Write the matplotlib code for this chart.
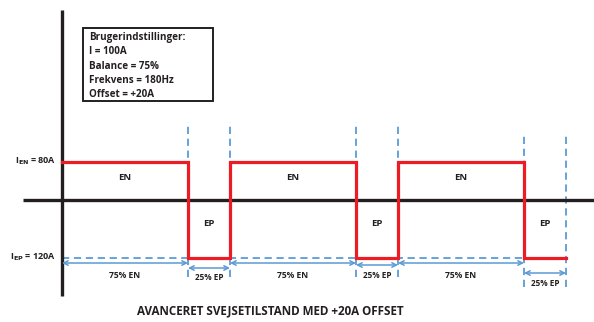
import matplotlib.pyplot as plt
from matplotlib.patches import Rectangle

# User settings shown in the info box
settings_title = "Brugerindstillinger:"
settings_lines = ["I = 100A", "Balance = 75%", "Frekvens = 180Hz", "Offset = +20A"]

# Waveform parameters
freq_hz = 180          # AC frequency
balance_en = 0.75      # EN share of each period
i_en = 80              # A, electrode negative level
i_ep = -120            # A, electrode positive level (drawn below zero)
n_periods = 3

en_label = "EN"
ep_label = "EP"
en_pct_label = "75% EN"
ep_pct_label = "25% EP"
y_labels = [r"I$_{\mathbf{EN}}$ = 80A", r"I$_{\mathbf{EP}}$ = 120A"]
chart_title = "AVANCERET SVEJSETILSTAND MED +20A OFFSET"

RED = "#ed1c24"
BLUE = "#5b9bd5"
BLACK = "#231f20"
FONT = "Open Sans"

period = 1000.0 / freq_hz          # ms
t_en = balance_en * period
t_ep = period - t_en
falls = [k * period + t_en for k in range(n_periods)]
rises = [(k + 1) * period for k in range(n_periods)]

# Square-wave outline
xs, ys = [0.0], [i_en]
for k in range(n_periods):
    xs += [falls[k], falls[k], rises[k]]
    ys += [i_en, i_ep, i_ep]
    if k < n_periods - 1:
        xs += [rises[k]]
        ys += [i_en]

W, H, DPI = 594, 322, 100
fig = plt.figure(figsize=(W / DPI, H / DPI), dpi=DPI)
ax = fig.add_axes([0, 0, 1, 1])
ax.set_axis_off()

# scale: ms -> px and A -> px
x0_px, x1_px = 62, 566
px_ms = (x1_px - x0_px) / (n_periods * period)
y0_px, px_a = 200, 0.48
ax.set_xlim(-x0_px / px_ms, (W - x0_px) / px_ms)
ax.set_ylim(-(H - y0_px) / px_a, y0_px / px_a)

def dx(px):
    return px / px_ms

def dy(px):
    return px / px_a

# axes lines
ax.plot([0, 0], [dy(-96), dy(190)], color=BLACK, lw=2.4, solid_capstyle="butt", zorder=3)
ax.plot([dx(-39), dx(W)], [0, 0], color=BLACK, lw=2.4, solid_capstyle="butt", zorder=3)

dash = (0, (4.0, 2.6))
# dashed reference at EP level
ax.plot([0, falls[-1]], [i_ep, i_ep], color=BLUE, lw=1.3, linestyle=dash, zorder=2)

# vertical dashed guides at each transition
for k in range(n_periods):
    top, bot = (dy(78), dy(-77)) if k < n_periods - 1 else (dy(68), dy(-87))
    for xv in (falls[k], rises[k]):
        ax.plot([xv, xv], [bot, top], color=BLUE, lw=1.3, linestyle=dash, zorder=2)

# waveform
ax.plot(xs, ys, color=RED, lw=2.3, solid_joinstyle="miter", zorder=4)

arrow_kw = dict(arrowstyle="<->", color=BLUE, lw=1.1, shrinkA=0, shrinkB=0,
                mutation_scale=8)
ep_offsets = [dy(-68), dy(-65), dy(-73)]
ep_text_offsets = [dy(-77), dy(-75), dy(-84)]
txt = dict(fontweight="bold", family=FONT, color=BLACK)
for k in range(n_periods):
    start = k * period
    # EN duration arrow
    ya = dy(-63)
    ax.annotate("", xy=(falls[k], ya), xytext=(start, ya), arrowprops=arrow_kw)
    ax.text((start + falls[k]) / 2, dy(-76), en_pct_label, ha="center", va="center",
            fontsize=6.1, **txt)
    # EP duration arrow
    ax.annotate("", xy=(rises[k], ep_offsets[k]), xytext=(falls[k], ep_offsets[k]),
                arrowprops=arrow_kw)
    ax.text((falls[k] + rises[k]) / 2, ep_text_offsets[k], ep_pct_label, ha="center",
            va="center", fontsize=5.9, **txt)
    # EN / EP labels
    ax.text((start + falls[k]) / 2, dy(23), en_label, ha="center", va="center",
            fontsize=6.8, **txt)
    ax.text((falls[k] + rises[k]) / 2, dy(-23), ep_label, ha="center", va="center",
            fontsize=6.8, **txt)

# level labels
for lab, lvl in zip(y_labels, [i_en, i_ep]):
    ax.text(dx(-6), lvl, lab, ha="right", va="center", fontsize=6.5, **txt)

# settings box
ax.add_patch(Rectangle((dx(21), dy(99)), dx(130), dy(73), fill=False,
                       edgecolor=BLACK, lw=1.4, zorder=5))
ax.text(dx(27), dy(168), "\n".join([settings_title] + settings_lines), ha="left",
        va="top", fontsize=7.1, linespacing=1.42, **txt)

fig.text(270 / W, 1 - 311 / H, chart_title, ha="center", va="center", fontsize=8.4,
         **txt)

fig.savefig("out.png", dpi=DPI)
